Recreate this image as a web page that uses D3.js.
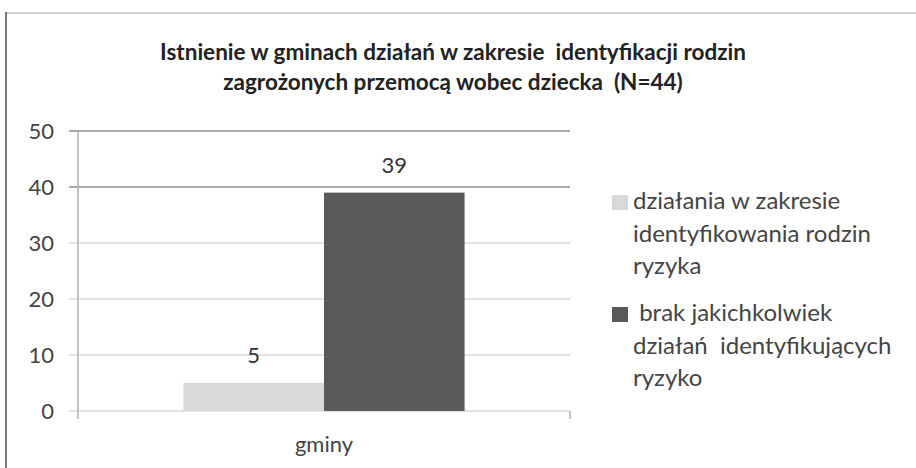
<!DOCTYPE html>
<html>
<head>
<meta charset="utf-8">
<script src="https://cdn.jsdelivr.net/npm/d3@7"></script>
<style>
	body { margin: 0; background: #fff; }
	text { font-family: Lato, "Open Sans", sans-serif; fill: #333; white-space: pre; }
</style>
</head>
<body>
<div id="chart"></div>
<script>
var titleLines = ["Istnienie w gminach działań w zakresie  identyfikacji rodzin",
	"zagrożonych przemocą wobec dziecka  (N=44)"];
var categories = ["gminy"];
var seriesNames = [
	["działania w zakresie", "identyfikowania rodzin", "ryzyka"],
	[" brak jakichkolwiek", "działań  identyfikujących", "ryzyko"]
];
var seriesValues = [5, 39];
var seriesColors = ["#d9d9d9", "#595959"];
var yTicks = [0, 10, 20, 30, 40, 50];

function drawChart(div) {
	var svg = d3.select("#" + div).append("svg")
		.attr("width", 916).attr("height", 468);

	// frame of the copied picture
	svg.append("line").attr("x1", 6).attr("x2", 916).attr("y1", 13).attr("y2", 13)
		.attr("stroke", "#d0d0d0").attr("stroke-width", 2);
	svg.append("line").attr("x1", 6).attr("x2", 6).attr("y1", 12).attr("y2", 468)
		.attr("stroke", "#777").attr("stroke-width", 2);

	var title = svg.append("text").attr("text-anchor", "middle").attr("xml:space", "preserve")
		.style("font-size", "22.5px").style("font-weight", "bold").style("fill", "#222");
	var i = 0;
	for (i; i < titleLines.length; i++) {
		title.append("tspan").attr("x", 453).attr("y", 60 + i * 30).text(titleLines[i]);
	}

	var y = d3.scaleLinear().domain([0, 50]).range([411, 131]);
	var x = d3.scaleBand().domain(categories).range([78, 570]);
	// gap on each side of the bars is 0.75 of one bar's width
	var barW = x.bandwidth() / (seriesValues.length + 1.5);
	var gap = 0.75 * barW;

	// gridlines
	var grid = svg.append("g");
	for (i = 0; i < yTicks.length; i++) {
		var v = yTicks[i];
		grid.append("line").attr("x1", 69).attr("x2", 570)
			.attr("y1", y(v)).attr("y2", y(v))
			.attr("stroke", v >= 40 ? "#a9a9a9" : "#d9d9d9")
			.attr("stroke-width", v >= 40 ? 2 : 1.5);
	}

	// y axis
	var yAxis = d3.axisLeft(y).tickValues(yTicks).tickSize(0).tickPadding(0);
	var ga = svg.append("g").attr("transform", "translate(54,0)").call(yAxis);
	ga.select(".domain").remove();
	ga.selectAll("text").style("font-size", "22px").style("fill", "#444")
		.style("font-family", "Lato, sans-serif");
	svg.append("line").attr("x1", 78).attr("x2", 78).attr("y1", 131).attr("y2", 419)
		.attr("stroke", "#b0b0b0").attr("stroke-width", 1.5);
	svg.append("line").attr("x1", 570).attr("x2", 570).attr("y1", 411).attr("y2", 419)
		.attr("stroke", "#b0b0b0").attr("stroke-width", 1.5);

	// bars
	var bars = svg.append("g");
	for (i = 0; i < seriesValues.length; i++) {
		var bx = x(categories[0]) + gap + i * barW;
		bars.append("rect").attr("x", bx).attr("y", y(seriesValues[i]))
			.attr("width", barW).attr("height", y(0) - y(seriesValues[i]))
			.attr("fill", seriesColors[i]);
		bars.append("text").attr("x", bx + barW / 2).attr("y", y(seriesValues[i]) - 20)
			.attr("text-anchor", "middle").style("font-size", "22px").style("fill", "#333")
			.text(seriesValues[i]);
	}

	// category label
	svg.append("text").attr("x", x(categories[0]) + x.bandwidth() / 2).attr("y", 452)
		.attr("text-anchor", "middle").style("font-size", "22px").style("fill", "#444")
		.text(categories[0]);

	// legend
	var legend = svg.append("g");
	for (i = 0; i < seriesNames.length; i++) {
		var ly = 195 + i * 112;
		legend.append("rect").attr("x", 612).attr("y", ly).attr("width", 16).attr("height", 15)
			.attr("fill", seriesColors[i]);
		var t = legend.append("text").style("font-size", "24px").style("fill", "#444")
			.attr("xml:space", "preserve");
		var j = 0;
		for (j; j < seriesNames[i].length; j++) {
			t.append("tspan").attr("x", 633).attr("y", ly + 14 + j * 32.5).text(seriesNames[i][j]);
		}
	}
}

drawChart("chart");
</script>
</body>
</html>
